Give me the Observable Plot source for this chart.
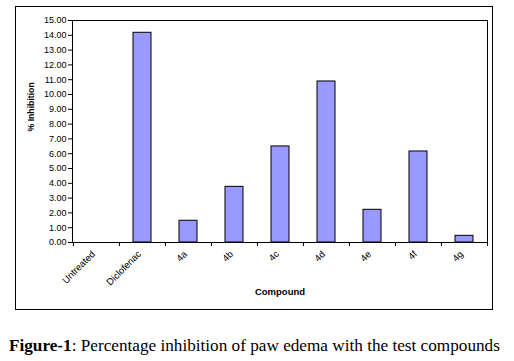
<!DOCTYPE html>
<html>
<head>
<meta charset="utf-8">
<script src="https://cdn.jsdelivr.net/npm/d3@7"></script>
<script src="https://cdn.jsdelivr.net/npm/@observablehq/plot@0.6"></script>
<style>
  html, body { margin: 0; padding: 0; background: #fff; }
  #box { position: absolute; left: 15px; top: 6px; width: 476px; height: 302px; border: 1px solid #000; }
  #cap { position: absolute; left: 9px; top: 336px; font-family: "Liberation Serif", "Times New Roman", serif; font-size: 17.2px; color: #000; white-space: nowrap; }
</style>
</head>
<body>
<div id="box"></div>
<div id="cap"><b>Figure-1</b>: Percentage inhibition of paw edema with the test compounds</div>
<script>
const compounds = ["Untreated", "Diclofenac", "4a", "4b", "4c", "4d", "4e", "4f", "4g"];
const inhibition = [0, 14.17, 1.47, 3.76, 6.49, 10.88, 2.21, 6.15, 0.45];
const yTicks = d3.range(0, 15.01, 1);

const data = compounds.map((c, i) => ({compound: c, value: inhibition[i]}));

const W = 476, H = 302;
const ml = 56, mr = 5, mt = 13, mb = 67;
const bw = (W - ml - mr) / compounds.length;

const chart = Plot.plot({
  width: W,
  height: H,
  marginLeft: ml,
  marginRight: mr,
  marginTop: mt,
  marginBottom: mb,
  style: {fontFamily: "Arial, 'Liberation Sans', sans-serif", fontSize: "9px", color: "#000", background: "transparent"},
  x: {domain: compounds, padding: 0, label: null},
  y: {domain: [0, 15], label: null},
  marks: [
    Plot.barY(data, {x: "compound", y: "value", fill: "#9999ff", stroke: "#000", strokeWidth: 1, insetLeft: 14, insetRight: 14}),
    Plot.frame({stroke: "#000", strokeWidth: 1}),
    Plot.axisY({ticks: yTicks, tickFormat: d => d.toFixed(2), tickSize: 4, tickPadding: 2, fontSize: "9px", label: null}),
    Plot.axisX({tickSize: 0, tickRotate: -45, tickPadding: 10, dx: -3, fontSize: "9.5px", label: null, textAnchor: "end"}),
    Plot.axisX({tickSize: 4, dx: -bw / 2, tickFormat: () => "", label: null}),
    Plot.axisX({ticks: [compounds[compounds.length - 1]], tickSize: 4, dx: bw / 2, tickFormat: () => "", label: null}),
    Plot.text(["Compound"], {frameAnchor: "bottom", dy: 52, text: d => d, fontWeight: "bold", fontSize: "9.5px"}),
    Plot.text(["% Inhibition"], {frameAnchor: "left", dx: -41, rotate: -90, text: d => d, fontWeight: "bold", fontSize: "8.7px"})
  ]
});
document.getElementById("box").appendChild(chart);
</script>
</body>
</html>
